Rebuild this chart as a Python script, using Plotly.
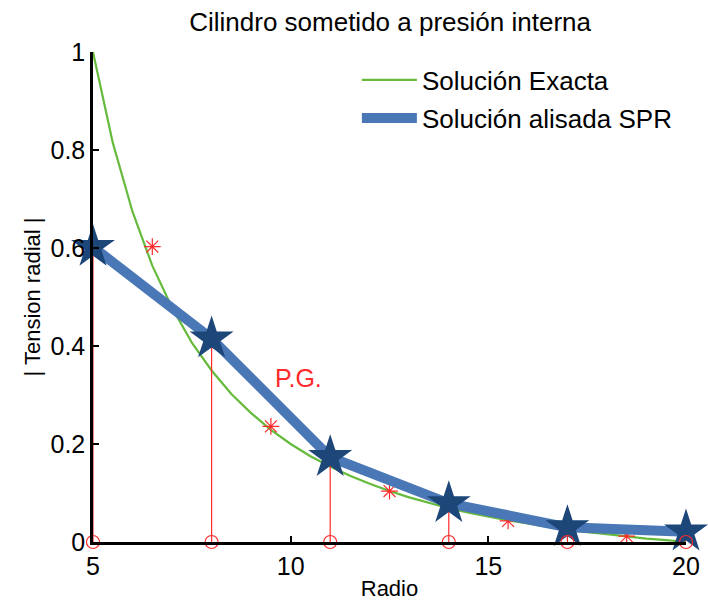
import plotly.graph_objects as go

# Exact solution
r_exact = [5, 5.5, 6, 6.5, 7, 7.5, 8, 8.5, 9, 9.5, 10, 10.5, 11, 11.5, 12, 12.5,
           13, 13.5, 14, 14.5, 15, 15.5, 16, 16.5, 17, 17.5, 18, 18.5, 19, 19.5, 20]
s_exact = [1.000, 0.815, 0.674, 0.564, 0.478, 0.407, 0.350, 0.302, 0.263, 0.229,
           0.200, 0.175, 0.154, 0.135, 0.119, 0.104, 0.091, 0.080, 0.069, 0.060,
           0.052, 0.044, 0.038, 0.031, 0.026, 0.020, 0.016, 0.011, 0.007, 0.004, 0.000]

# Gauss points (P.G.)
r_gauss = [6.5, 9.5, 12.5, 15.5, 18.5]
s_gauss = [0.603, 0.236, 0.104, 0.043, 0.012]

# Nodes, smoothed SPR solution
r_nodes = [5, 8, 11, 14, 17, 20]
s_spr = [0.602, 0.415, 0.173, 0.079, 0.030, 0.021]

x_ticks = [5, 10, 15, 20]
y_ticks = [0, 0.2, 0.4, 0.6, 0.8, 1]
y_tick_text = ["0", "0.2", "0.4", "0.6", "0.8", "1"]

GREEN = "#66bb3c"
BLUE = "#4a78b6"
DARK = "#1d4679"
RED = "#ff2a2a"
FONT = "Liberation Sans, Arial, sans-serif"

fig = go.Figure()

fig.add_trace(go.Scatter(x=r_exact, y=s_exact, mode="lines", name="Solución Exacta",
                         legend="legend",
                         line=dict(color=GREEN, width=2.2), cliponaxis=False))
fig.add_trace(go.Scatter(x=r_gauss, y=s_gauss, mode="markers", showlegend=False,
                         marker=dict(symbol="asterisk-open", size=14, color=RED,
                                     line=dict(color=RED, width=1.2)),
                         cliponaxis=False))

stem_x, stem_y = [], []
for xv, yv in zip(r_nodes, s_spr):
    stem_x += [xv, xv, None]
    stem_y += [0, yv, None]
fig.add_trace(go.Scatter(x=stem_x, y=stem_y, mode="lines", showlegend=False,
                         line=dict(color=RED, width=1.2), cliponaxis=False))

fig.add_trace(go.Scatter(x=r_nodes, y=s_spr, mode="lines", name="Solución alisada SPR",
                         legend="legend2",
                         line=dict(color=BLUE, width=10), cliponaxis=False))
fig.add_trace(go.Scatter(x=r_nodes, y=s_spr, mode="markers", showlegend=False,
                         marker=dict(symbol="star", size=33, color=DARK,
                                     line=dict(width=0)),
                         cliponaxis=False))
fig.add_trace(go.Scatter(x=r_nodes, y=[0] * len(r_nodes), mode="markers", showlegend=False,
                         marker=dict(symbol="circle-open", size=13, color=RED,
                                     line=dict(color=RED, width=1.2)),
                         cliponaxis=False))

fig.add_annotation(x=10.2, y=0.335, text="P.G.", showarrow=False,
                   font=dict(family=FONT, size=25, color=RED))

leg_common = dict(xanchor="left", yanchor="middle", bgcolor="rgba(0,0,0,0)",
                  font=dict(family=FONT, size=26), itemwidth=55)

fig.update_layout(
    width=708, height=603,
    margin=dict(l=93, r=22, t=52, b=61),
    paper_bgcolor="white", plot_bgcolor="white",
    font=dict(family=FONT, size=25, color="black"),
    title=dict(text="Cilindro sometido a presión interna", x=0.551, xanchor="center",
               y=1 - 22 / 603, yanchor="middle", font=dict(family=FONT, size=26)),
    showlegend=True,
    legend=dict(x=0.445, y=0.943, **leg_common),
    legend2=dict(x=0.445, y=0.865, **leg_common),
    xaxis=dict(range=[5, 20], tickvals=x_ticks, ticks="inside", ticklen=6,
               tickwidth=2, tickcolor="black", showline=True, linecolor="black",
               linewidth=2.5, showgrid=False, zeroline=False, automargin=False,
               title=dict(text="Radio", font=dict(family=FONT, size=22), standoff=2),
               tickfont=dict(size=25)),
    yaxis=dict(range=[0, 1], tickvals=y_ticks, ticktext=y_tick_text, ticks="inside",
               ticklen=6, tickwidth=2, tickcolor="black", showline=True,
               linecolor="black", linewidth=2.5, showgrid=False, zeroline=False,
               automargin=False,
               title=dict(text="| Tension radial |", font=dict(family=FONT, size=22),
                          standoff=4),
               tickfont=dict(size=25)),
)

fig.write_html("out.html", config={"displayModeBar": False},
               post_script="document.body.style.margin='0';document.body.style.padding='0';")
